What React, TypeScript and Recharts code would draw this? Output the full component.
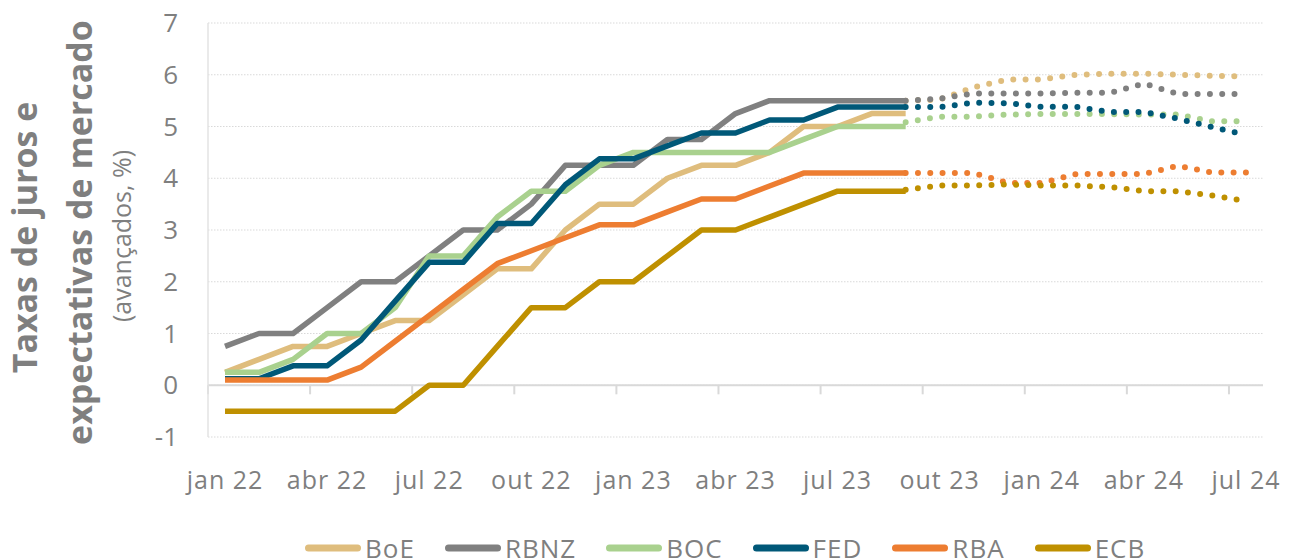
import React from 'react';
import { LineChart, Line, XAxis, YAxis, CartesianGrid, ReferenceLine, Legend } from 'recharts';

const months = [
  'jan 22', 'fev 22', 'mar 22', 'abr 22', 'mai 22', 'jun 22', 'jul 22', 'ago 22', 'set 22', 'out 22', 'nov 22', 'dez 22',
  'jan 23', 'fev 23', 'mar 23', 'abr 23', 'mai 23', 'jun 23', 'jul 23', 'ago 23', 'set 23', 'out 23', 'nov 23', 'dez 23',
  'jan 24', 'fev 24', 'mar 24', 'abr 24', 'mai 24', 'jun 24', 'jul 24',
];
const tickIndexes = [0, 3, 6, 9, 12, 15, 18, 21, 24, 27, 30];
const quarterBoundaries = [-0.5, 2.5, 5.5, 8.5, 11.5, 14.5, 17.5, 20.5, 23.5, 26.5, 29.5];
const yTicks = [-1, 0, 1, 2, 3, 4, 5, 6, 7];

const FWD_START = 20;

// Policy rates (Jan 22 .. Sep 23)
const boe = [0.25, 0.5, 0.75, 0.75, 1.0, 1.25, 1.25, 1.75, 2.25, 2.25, 3.0, 3.5, 3.5, 4.0, 4.25, 4.25, 4.5, 5.0, 5.0, 5.25, 5.25];
const rbnz = [0.75, 1.0, 1.0, 1.5, 2.0, 2.0, 2.5, 3.0, 3.0, 3.5, 4.25, 4.25, 4.25, 4.75, 4.75, 5.25, 5.5, 5.5, 5.5, 5.5, 5.5];
const boc = [0.25, 0.25, 0.5, 1.0, 1.0, 1.5, 2.5, 2.5, 3.25, 3.75, 3.75, 4.25, 4.5, 4.5, 4.5, 4.5, 4.5, 4.75, 5.0, 5.0, 5.0];
const fed = [0.125, 0.125, 0.375, 0.375, 0.875, 1.625, 2.375, 2.375, 3.125, 3.125, 3.875, 4.375, 4.375, 4.625, 4.875, 4.875, 5.125, 5.125, 5.375, 5.375, 5.375];
const rba = [0.1, 0.1, 0.1, 0.1, 0.35, 0.85, 1.35, 1.85, 2.35, 2.6, 2.85, 3.1, 3.1, 3.35, 3.6, 3.6, 3.85, 4.1, 4.1, 4.1, 4.1];
const ecb = [-0.5, -0.5, -0.5, -0.5, -0.5, -0.5, 0, 0, 0.75, 1.5, 1.5, 2.0, 2.0, 2.5, 3.0, 3.0, 3.25, 3.5, 3.75, 3.75, 3.75];

// Market expectations (Sep 23 .. Jul 24)
const boeFwd = [5.5, 5.52, 5.76, 5.91, 5.91, 6.0, 6.02, 6.02, 6.0, 5.98, 5.97];
const rbnzFwd = [5.5, 5.54, 5.64, 5.64, 5.64, 5.65, 5.65, 5.83, 5.63, 5.63, 5.63];
const bocFwd = [5.08, 5.19, 5.19, 5.23, 5.24, 5.24, 5.24, 5.23, 5.23, 5.1, 5.1];
const fedFwd = [5.375, 5.375, 5.46, 5.45, 5.38, 5.38, 5.28, 5.28, 5.15, 4.99, 4.84];
const rbaFwd = [4.1, 4.1, 4.1, 3.91, 3.91, 4.08, 4.08, 4.08, 4.24, 4.11, 4.11];
const ecbFwd = [3.78, 3.86, 3.86, 3.88, 3.86, 3.86, 3.83, 3.75, 3.75, 3.67, 3.56];

const series = [
  { name: 'BoE', color: '#DFBD7D', hist: boe, fwd: boeFwd },
  { name: 'RBNZ', color: '#808080', hist: rbnz, fwd: rbnzFwd },
  { name: 'BOC', color: '#A9D18E', hist: boc, fwd: bocFwd },
  { name: 'FED', color: '#005878', hist: fed, fwd: fedFwd },
  { name: 'RBA', color: '#ED7D31', hist: rba, fwd: rbaFwd },
  { name: 'ECB', color: '#BF9000', hist: ecb, fwd: ecbFwd },
];

const data = months.map((m, i) => {
  const row: Record<string, number | string | undefined> = { i, month: m };
  series.forEach((s) => {
    row[s.name] = i < s.hist.length ? s.hist[i] : undefined;
    row[s.name + '_f'] = i >= FWD_START && i - FWD_START < s.fwd.length ? s.fwd[i - FWD_START] : undefined;
  });
  return row;
});

const FONT = "'Open Sans', 'Noto Sans', sans-serif";
const GREY = '#7F7F7F';

const renderTitle = () => (
  <g fill={GREY} fontFamily={FONT}>
    <text x={36.5} y={237.5} transform="rotate(-90, 36.5, 237.5)" textAnchor="middle" fontSize={34} fontWeight={700}>
      Taxas de juros e
    </text>
    <text x={92} y={232.5} transform="rotate(-90, 92, 232.5)" textAnchor="middle" fontSize={34} fontWeight={700}>
      expectativas de mercado
    </text>
    <text x={130.5} y={236} transform="rotate(-90, 130.5, 236)" textAnchor="middle" fontSize={25}>
      (avançados, %)
    </text>
  </g>
);

const renderLegend = () => (
  <div style={{ display: 'flex', alignItems: 'center', whiteSpace: 'nowrap', fontFamily: FONT, fontSize: 26, color: GREY, letterSpacing: 1 }}>
    {series.map((s) => (
      <div key={s.name} style={{ display: 'flex', alignItems: 'center', marginRight: 30 }}>
        <svg width={56} height={10} style={{ display: 'block' }}>
          <line x1={3.5} y1={5} x2={52.5} y2={5} stroke={s.color} strokeWidth={7} strokeLinecap="round" />
        </svg>
        <span style={{ marginLeft: 4 }}>{s.name}</span>
      </div>
    ))}
  </div>
);

export default function App() {
  return (
    <div style={{ position: 'absolute', left: 0, top: 0, width: 1289, height: 559, background: '#fff' }}>
      <LineChart width={1289} height={559} data={data} margin={{ top: 23, right: 26, bottom: 0, left: 0 }}>
        <CartesianGrid vertical={false} stroke="#D9D9D9" strokeDasharray="1.5 1.5" strokeWidth={1} />
        <XAxis
          dataKey="i"
          type="number"
          domain={[-0.5, 30.5]}
          ticks={tickIndexes}
          tickFormatter={(v: number) => months[v] ?? ''}
          interval={0}
          axisLine={false}
          tickLine={false}
          tickSize={0}
          tickMargin={34}
          height={122}
          tick={{ fill: GREY, fontSize: 25, fontFamily: FONT, letterSpacing: 1 }}
          allowDataOverflow
        />
        <YAxis
          type="number"
          domain={[-1, 7]}
          ticks={yTicks}
          interval={0}
          width={208}
          axisLine={{ stroke: '#E3E3E3', strokeWidth: 1.5 }}
          tickLine={false}
          tickSize={0}
          tickMargin={30}
          tick={{ fill: GREY, fontSize: 26, fontFamily: FONT }}
          label={renderTitle}
        />
        <ReferenceLine y={0} stroke="#D9D9D9" strokeWidth={2} ifOverflow="visible" />
        {quarterBoundaries.map((b) => (
          <ReferenceLine
            key={b}
            segment={[{ x: b, y: 0 }, { x: b, y: -0.175 }]}
            stroke="#D9D9D9"
            strokeWidth={2}
            ifOverflow="visible"
          />
        ))}
        {series.map((s) => (
          <Line
            key={s.name + '_f'}
            dataKey={s.name + '_f'}
            stroke={s.color}
            strokeWidth={6}
            strokeDasharray="0 12.3"
            strokeLinecap="round"
            dot={false}
            activeDot={false}
            legendType="none"
            isAnimationActive={false}
          />
        ))}
        {series.map((s) => (
          <Line
            key={s.name}
            dataKey={s.name}
            name={s.name}
            stroke={s.color}
            strokeWidth={5.5}
            strokeLinejoin="round"
            dot={false}
            activeDot={false}
            isAnimationActive={false}
          />
        ))}
        <Legend
          layout="horizontal"
          verticalAlign="middle"
          align="center"
          content={renderLegend}
          wrapperStyle={{ left: 305, top: 530 }}
        />
      </LineChart>
    </div>
  );
}
